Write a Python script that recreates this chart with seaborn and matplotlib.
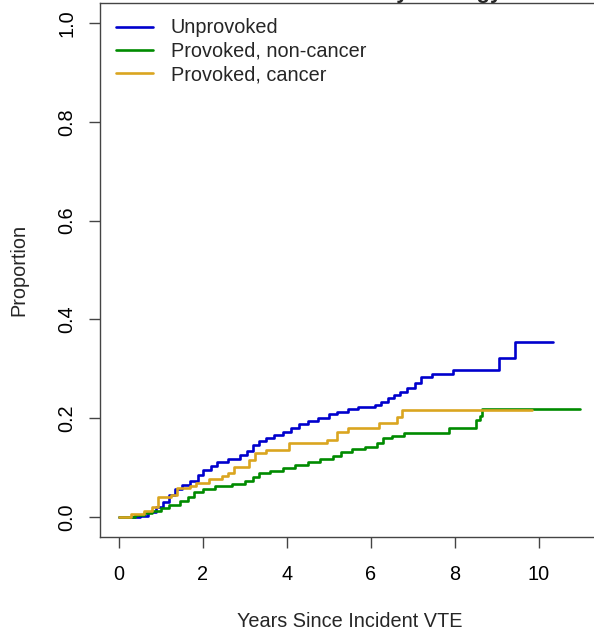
import numpy as np
import pandas as pd
import matplotlib
matplotlib.use("Agg")
import matplotlib.pyplot as plt
import seaborn as sns

# ---- data ----
unprov_t = [0, 0.5, 0.7, 0.9, 1.05, 1.2, 1.35, 1.5, 1.7, 1.9, 2.0, 2.2, 2.35, 2.6, 2.9, 3.05,
            3.2, 3.35, 3.5, 3.7, 3.9, 4.1, 4.3, 4.5, 4.75, 5.0, 5.2, 5.45, 5.7, 6.1, 6.25,
            6.4, 6.55, 6.7, 6.85, 7.05, 7.2, 7.45, 7.95, 9.05, 9.43, 10.33]
unprov_p = [0, 0.003, 0.01, 0.02, 0.03, 0.045, 0.058, 0.066, 0.074, 0.085, 0.095, 0.104, 0.111,
            0.118, 0.126, 0.134, 0.146, 0.155, 0.16, 0.166, 0.173, 0.181, 0.188, 0.195, 0.201,
            0.208, 0.213, 0.218, 0.222, 0.227, 0.233, 0.241, 0.248, 0.254, 0.261, 0.272, 0.283,
            0.29, 0.298, 0.322, 0.354, 0.354]

nonca_t = [0, 0.4, 0.6, 0.8, 1.0, 1.2, 1.45, 1.65, 1.8, 2.0, 2.3, 2.7, 3.0, 3.2, 3.35, 3.6, 3.9,
           4.2, 4.5, 4.8, 5.1, 5.3, 5.55, 5.85, 6.15, 6.3, 6.5, 6.8, 7.85, 8.5, 8.6, 8.65, 10.98]
nonca_p = [0, 0.004, 0.008, 0.013, 0.018, 0.024, 0.033, 0.04, 0.05, 0.057, 0.063, 0.068, 0.073,
           0.081, 0.089, 0.094, 0.1, 0.106, 0.112, 0.118, 0.124, 0.131, 0.137, 0.143, 0.151,
           0.16, 0.164, 0.17, 0.18, 0.196, 0.205, 0.218, 0.218]

cancer_t = [0, 0.3, 0.6, 0.8, 0.95, 1.25, 1.38, 1.7, 1.85, 2.15, 2.45, 2.6, 2.75, 3.1, 3.25,
            3.5, 4.05, 4.95, 5.2, 5.45, 6.2, 6.62, 6.75, 9.83]
cancer_p = [0, 0.007, 0.012, 0.02, 0.04, 0.045, 0.059, 0.064, 0.07, 0.077, 0.083, 0.089, 0.101,
            0.115, 0.129, 0.136, 0.15, 0.156, 0.172, 0.18, 0.19, 0.203, 0.216, 0.216]

groups = ["Unprovoked", "Provoked, non-cancer", "Provoked, cancer"]
colors = ["#0000CD", "#008B00", "#DAA520"]
x_ticks = [0, 2, 4, 6, 8, 10]
y_ticks = [0.0, 0.2, 0.4, 0.6, 0.8, 1.0]

df = pd.concat([
    pd.DataFrame({"t": unprov_t, "p": unprov_p, "g": groups[0]}),
    pd.DataFrame({"t": nonca_t, "p": nonca_p, "g": groups[1]}),
    pd.DataFrame({"t": cancer_t, "p": cancer_p, "g": groups[2]}),
])

sns.set_style("ticks")
plt.rcParams["font.family"] = ["Liberation Sans", "DejaVu Sans"]
FS = 14.3

fig = plt.figure(figsize=(5.94, 6.33), dpi=100)
ax = fig.add_axes([0.1684, 0.1517, 0.841, 0.8434])

sns.lineplot(data=df, x="t", y="p", hue="g", hue_order=groups,
             palette=dict(zip(groups, colors)), drawstyle="steps-post",
             linewidth=1.9, ax=ax, legend=False, estimator=None, sort=False)

ax.set_xlim(-0.44, 11.44)
ax.set_ylim(-0.04, 1.04)
ax.set_xticks(x_ticks)
ax.set_xticklabels([str(v) for v in x_ticks])
ax.set_yticks(y_ticks)
ax.set_yticklabels([f"{v:.1f}" for v in y_ticks], rotation=90, va="center")
ax.tick_params(axis="both", direction="out", length=8, width=1, colors="#444444",
               labelsize=FS, labelcolor="black")
ax.tick_params(axis="x", pad=12)
ax.tick_params(axis="y", pad=9)
for s in ax.spines.values():
    s.set_color("#444444")
    s.set_linewidth(1.0)
    s.set_visible(True)

ax.set_xlabel("Years Since Incident VTE", fontsize=FS, labelpad=20)
ax.set_ylabel("Proportion", fontsize=FS, labelpad=21)

# legend (no frame, R style)
handles = [plt.Line2D([], [], color=c, linewidth=1.9) for c in colors]
ax.legend(handles, groups, loc="upper left", frameon=False, fontsize=FS,
          handlelength=1.86, handletextpad=0.9, labelspacing=0.22,
          bbox_to_anchor=(0.0, 1.001), borderaxespad=0.4)

# title, mostly clipped above the figure as in the reference
fig.text(0.845, 1.0024, "Cumulative Incidence of Recurrence by Etiology",
         ha="right", va="baseline", fontsize=16, fontweight="bold")

fig.savefig("out.png", dpi=100)
